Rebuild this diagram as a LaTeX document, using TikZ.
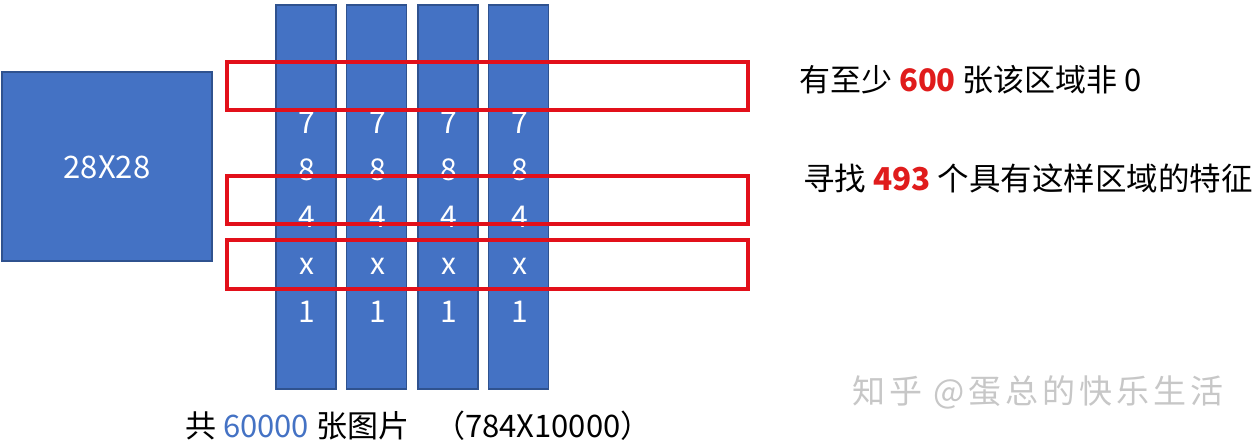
\documentclass[tikz,border=0pt]{standalone}
\usepackage{fontspec}
\setmainfont{Noto Sans CJK SC}
\newfontfamily\wmfont[LetterSpace=12]{Noto Sans CJK SC}
\definecolor{fillblue}{RGB}{68,114,196}
\definecolor{bordblue}{RGB}{47,82,143}
\definecolor{boxred}{RGB}{226,16,26}
\definecolor{numred}{RGB}{224,28,28}
\definecolor{numblue}{RGB}{68,114,196}
\begin{document}
\begin{tikzpicture}[x=1pt,y=-1pt,
  blk/.style={draw=bordblue, fill=fillblue, line width=1.5pt, inner sep=0pt, outer sep=0pt},
  redbox/.style={draw=boxred, line width=3.2pt, inner sep=0pt, outer sep=0pt, minimum width=521pt},
  digit/.style={text=white, font=\fontsize{30}{30}\selectfont, inner sep=0pt, anchor=base},
  label/.style={text=black, inner sep=0pt, anchor=base west},
  wm/.style={text=black!22, font=\wmfont\fontsize{33}{33}\selectfont, inner sep=0pt, anchor=base west}]
\useasboundingbox (0,0) rectangle (1260,445);
% left image
\node[blk, minimum width=210pt, minimum height=189pt] (img) at (107,166.5) {};
\node[text=white, font=\fontsize{31}{31}\selectfont, inner sep=0pt] (imglabel) at (107,167) {28X28};
% columns
\foreach \i/\cx in {1/306,2/376.5,3/448,4/518.5}{
  \node[blk, minimum width=60pt, minimum height=384pt] (col\i) at (\cx,197) {};
  \node[digit] (d7\i) at (\cx+1,133) {7};
  \node[digit] (d8\i) at (\cx+1,180) {8};
  \node[digit] (d4\i) at (\cx+1,227) {4};
  \node[digit] (dx\i) at (\cx+1,274) {x};
  \node[digit] (d1\i) at (\cx+1,322) {1};
}
% red boxes
\node[redbox, minimum height=48pt] (r1) at (487.5,86) {};
\node[redbox, minimum height=48pt] (r2) at (487.5,200) {};
\node[redbox, minimum height=49pt] (r3) at (487.5,264.5) {};
% texts
\node[label, font=\fontsize{31}{31}\selectfont] (t1) at (799,91) {有至少 \textcolor{numred}{\textbf{600}} 张该区域非 0};
\node[label, font=\fontsize{31.5}{31.5}\selectfont] (t2) at (803,190) {寻找 \textcolor{numred}{\textbf{493}} 个具有这样区域的特征};
\node[label, font=\fontsize{31}{31}\selectfont] (t3) at (185,437) {共 \textcolor{numblue}{60000} 张图片\hspace{18pt} （784X10000）};
\node[wm] (wmk) at (852,403) {知乎 @蛋总的快乐生活};
\end{tikzpicture}
\end{document}
